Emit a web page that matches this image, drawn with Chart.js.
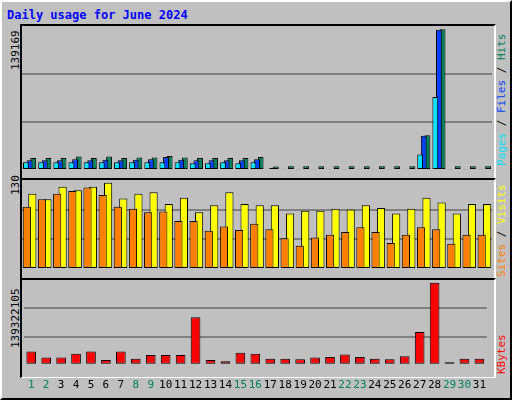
<!DOCTYPE html>
<html><head><meta charset="utf-8">
<script src="https://cdn.jsdelivr.net/npm/chart.js@4"></script>
<style>
  body { margin:0; width:512px; height:400px; background:#c0c0c0; overflow:hidden; font-family:'DejaVu Sans Mono', monospace; }
  #frame { position:absolute; left:0; top:0; width:508px; height:396px; border:2px solid; border-color:#fff #000 #000 #fff; }
  #title { position:absolute; left:7px; top:8px; font-weight:bold; font-size:12px; color:#0000ff; }
  .panel { position:absolute; left:20px; width:472px; border-left:2px solid #000; border-top:2px solid #000; border-right:2px solid #fff; border-bottom:1px solid #fff; }
  canvas { position:absolute; }
  .vl { position:absolute; transform:rotate(-90deg); transform-origin:left top; font-size:11px; white-space:nowrap; }
</style></head>
<body>
<div id="frame"></div>
<div id="title">Daily usage for June 2024</div>
<div class="panel" style="top:24px;height:153px"></div>
<div class="panel" style="top:178px;height:99px"></div>
<div class="panel" style="top:278px;height:97px"></div>
<canvas id="c1" width="470" height="152" style="left:22px;top:26px"></canvas>
<canvas id="c2" width="470" height="97" style="left:22px;top:180px"></canvas>
<canvas id="c3" width="470" height="118" style="left:22px;top:280px"></canvas>
<div class="vl" style="left:9px;top:70px">139169</div>
<div class="vl" style="left:9px;top:195px">130</div>
<div class="vl" style="left:9px;top:348px">139322105</div>
<div class="vl" style="left:495px;top:166px"><span style="color:#00e0ff">Pages</span> / <span style="color:#0040ff">Files</span> / <span style="color:#00805c">Hits</span></div>
<div class="vl" style="left:495px;top:277px"><span style="color:#ff8000">Sites</span> / <span style="color:#ffff00">Visits</span></div>
<div class="vl" style="left:495px;top:374px"><span style="color:#ff0000">KBytes</span></div>
<script>
const days = Array.from({length: 31}, (_, i) => String(i + 1));
const weekend = [1, 2, 8, 9, 15, 16, 22, 23, 29, 30];
const hitsMax = 139169, visitsMax = 130, kbMax = 139322105;

const hits   = [11500,11500,11500,13000,11500,13000,11500,12000,12000,13500,12000,11500,11500,11500,11500,12500,3500,3700,3700,3700,3700,3700,3700,3700,3700,3700,33500,136000,3700,3700,3700];
const files  = [9500,9500,9500,10500,9500,10000,9500,10000,10500,12500,10000,9500,9500,9500,9500,10500,2000,1000,1000,1000,1000,1000,1000,1000,1000,1000,33000,135500,1000,1000,1000];
const pages  = [7500,7500,7500,7500,7500,7500,7500,7500,7500,7500,7500,6500,6500,7500,6500,7500,1000,800,800,800,800,800,800,800,800,800,15000,70500,800,800,800];
const visits = [110,102,120,115,120,126,103,110,112,95,104,83,93,112,95,93,93,81,85,85,88,87,93,89,81,88,104,97,81,95,95];
const sites  = [91,102,110,114,119,108,91,88,83,84,70,70,56,62,57,66,58,45,34,46,50,54,61,54,38,50,61,58,37,50,50];
const kbytes = [22000000,12000000,12000000,18000000,22000000,8000000,22000000,10000000,16000000,16000000,16000000,78000000,8000000,6000000,20000000,18000000,10000000,10000000,9000000,12000000,13000000,17000000,13000000,10000000,9000000,14000000,54000000,135000000,4000000,10000000,10000000];

// order: lower numbers are drawn on top, like the overlapping webalizer bars
function ds(data, color, order, barPct) {
  return { data, order, backgroundColor: color, borderColor: '#000', borderWidth: 1, borderSkipped: false,
           categoryPercentage: 0.72, barPercentage: barPct };
}

function makePanel(id, datasets, max, showX) {
  return new Chart(document.getElementById(id), {
    type: 'bar',
    data: { labels: days, datasets },
    options: {
      responsive: false, animation: false,
      layout: { padding: 0 },
      plugins: { legend: { display: false }, tooltip: { enabled: false } },
      scales: {
        x: {
          grid: { display: false }, border: { display: false },
          ticks: {
            display: showX, autoSkip: false, maxRotation: 0, padding: 6,
            font: { family: "'DejaVu Sans Mono', monospace", size: 11 },
            color: ctx => weekend.includes(ctx.index + 1) ? '#00805c' : '#000',
          },
        },
        y: {
          min: 0, max, afterBuildTicks: a => { a.ticks = [0, max / 3, 2 * max / 3, max].map(v => ({ value: v })); },
          grid: { color: c => (c.tick.value > 0 && c.tick.value < max) ? '#808080' : 'rgba(0,0,0,0)', lineWidth: 2, drawTicks: false },
          border: { display: false },
          ticks: { display: false },
        },
      },
    },
  });
}

makePanel('c1', [ds(hits, '#00805c', 2, 1.6), ds(files, '#0040ff', 1, 1.6), ds(pages, '#00e0ff', 0, 1.6)], hitsMax, false);
makePanel('c2', [ds(visits, '#ffff00', 1, 1.5), ds(sites, '#ff8000', 0, 1.5)], visitsMax, false);
makePanel('c3', [ds(kbytes, '#ff0000', 0, 0.9)], kbMax, true);
</script>
</body></html>
